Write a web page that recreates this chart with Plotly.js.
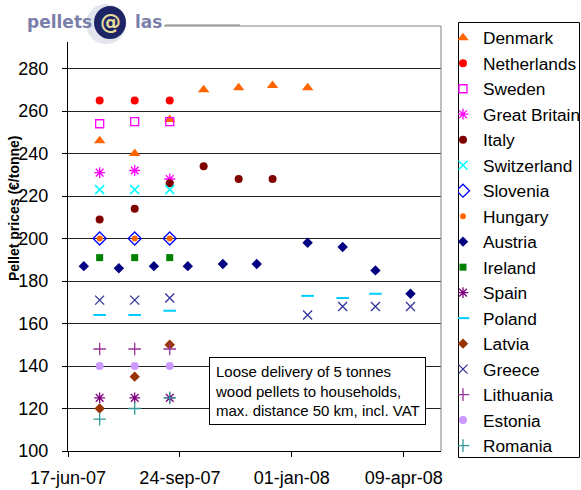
<!DOCTYPE html>
<html>
<head>
<meta charset="utf-8">
<script src="https://cdn.plot.ly/plotly-3.0.1.min.js"></script>
<style>html,body{margin:0;padding:0;background:#fff;}#chart{width:581px;height:490px;}</style>
</head>
<body>
<div id="chart"></div>
<script>
// ---- data ----
var dates2007 = ['2007-07-15', '2007-08-15', '2007-09-15'];
var denmarkDates = ['2007-07-15', '2007-08-15', '2007-09-15', '2007-10-15', '2007-11-15', '2007-12-15', '2008-01-15'];
var italyDates = ['2007-07-15', '2007-08-15', '2007-09-15', '2007-10-15', '2007-11-15', '2007-12-15'];
var austriaDates = ['2007-07-01', '2007-08-01', '2007-09-01', '2007-10-01', '2007-11-01', '2007-12-01', '2008-01-15', '2008-02-15', '2008-03-15', '2008-04-15'];
var polandDates = ['2007-07-15', '2007-08-15', '2007-09-15', '2008-01-15', '2008-02-15', '2008-03-15'];
var greeceDates = ['2007-07-15', '2007-08-15', '2007-09-15', '2008-01-15', '2008-02-15', '2008-03-15', '2008-04-15'];

var denmark = [246, 240, 256, 270, 271, 272, 271];
var netherlands = [265, 265, 265];
var sweden = [254, 255, 255];
var greatBritain = [231, 232, 228];
var italy = [209, 214, 226, 234, 228, 228];
var switzerland = [223, 223, 223];
var slovenia = [200, 200, 200];
var hungary = [200, 200, 200];
var austria = [187, 186, 187, 187, 188, 188, 198, 196, 185, 174];
var ireland = [191, 191, 191];
var spain = [125, 125, 125];
var poland = [164, 164, 166, 173, 172, 174];
var latvia = [120, 135, 150];
var greece = [171, 171, 172, 164, 168, 168, 168];
var lithuania = [148, 148, 148];
var estonia = [140, 140, 140];
var romania = [115, 120, 125];

var yTickVals = [100, 120, 140, 160, 180, 200, 220, 240, 260, 280];
var xTickVals = ['2007-06-17', '2007-09-24', '2008-01-01', '2008-04-09'];
var xTickText = ['17-jun-07', '24-sep-07', '01-jan-08', '09-apr-08'];

// ---- helpers ----
function tr(name, x, y, symbol, color, size, lw) {
  var m = {symbol: symbol, color: color, size: size};
  if (lw) m.line = {color: color, width: lw};
  else m.line = {width: 0};
  return {type: 'scatter', mode: 'markers', name: name, x: x, y: y, marker: m, cliponaxis: false};
}
var L = 68, R = 441, T = 26, B = 451;
function px(x) { return (x - L) / (R - L); }
function py(y) { return (B - y) / (B - T); }

var data = [
  tr('Denmark', denmarkDates, denmark, 'triangle-up', '#FF6600', 10),
  tr('Netherlands', dates2007, netherlands, 'circle', '#FF0000', 8),
  tr('Sweden', dates2007, sweden, 'square-open', '#FF00FF', 8, 1.3),
  tr('Great Britain', dates2007, greatBritain, 'asterisk-open', '#FF00FF', 9, 1.3),
  tr('Italy', italyDates, italy, 'circle', '#800000', 8),
  tr('Switzerland', dates2007, switzerland, 'x-thin-open', '#00FFFF', 9, 1.5),
  tr('Slovenia', dates2007, slovenia, 'diamond-open', '#0000FF', 10, 1.3),
  tr('Hungary', dates2007, hungary, 'circle', '#FF6600', 6),
  tr('Austria', austriaDates, austria, 'diamond', '#000080', 8),
  tr('Ireland', dates2007, ireland, 'square', '#008000', 7),
  tr('Spain', dates2007, spain, 'asterisk-open', '#800080', 9, 1.3),
  tr('Poland', polandDates, poland, 'line-ew-open', '#00CCFF', 9, 2),
  tr('Latvia', dates2007, latvia, 'diamond', '#993300', 8),
  tr('Greece', greeceDates, greece, 'x-thin-open', '#333399', 9, 1.3),
  tr('Lithuania', dates2007, lithuania, 'cross-thin-open', '#993399', 9, 1.3),
  tr('Estonia', dates2007, estonia, 'circle', '#CC99FF', 8),
  tr('Romania', dates2007, romania, 'cross-thin-open', '#339999', 9, 1.3)
];

var font = 'Liberation Sans, Arial, sans-serif';

var layout = {
  width: 581, height: 490,
  margin: {l: L, r: 581 - R, t: T, b: 490 - B, autoexpand: false},
  paper_bgcolor: '#fff', plot_bgcolor: '#fff',
  font: {family: font, color: '#000', size: 18},
  showlegend: true,
  legend: {
    x: px(458), y: py(20), xanchor: 'left', yanchor: 'top',
    borderwidth: 0, bgcolor: 'rgba(0,0,0,0)',
    font: {family: font, size: 17.3, color: '#000'},
    tracegroupgap: 0, indentation: -15, maxheight: 480
  },
  xaxis: {
    type: 'date', range: ['2007-06-17', '2008-05-12'],
    tickmode: 'array', tickvals: xTickVals, ticktext: xTickText,
    showgrid: false, zeroline: false,
    showline: true, linecolor: '#000', linewidth: 1,
    ticks: 'outside', ticklen: 5, tickcolor: '#000',
    tickfont: {family: font, size: 18, color: '#000'},
    ticklabelstandoff: 5
  },
  yaxis: {
    range: [100, 300],
    tickmode: 'array', tickvals: yTickVals,
    showgrid: true, gridcolor: '#222', gridwidth: 1,
    zeroline: false,
    showline: true, linecolor: '#000', linewidth: 1,
    ticks: 'outside', ticklen: 5, tickcolor: '#000',
    tickfont: {family: font, size: 18, color: '#000'},
    ticklabelstandoff: 10
  },
  shapes: [
    {type: 'line', xref: 'paper', yref: 'paper', x0: 0, x1: 1, y0: 1, y1: 1, line: {color: '#808080', width: 1}},
    {type: 'line', xref: 'paper', yref: 'paper', x0: 1, x1: 1, y0: 0, y1: 1, line: {color: '#808080', width: 1}},
    // legend frame
    {type: 'rect', xref: 'paper', yref: 'paper', x0: px(458.5), x1: px(579.5), y0: py(457.5), y1: py(22.5), line: {color: '#000', width: 1}, fillcolor: 'rgba(0,0,0,0)'},
    // logo backdrop
    {type: 'rect', xref: 'paper', yref: 'paper', layer: 'above', x0: px(18), x1: px(164), y0: py(42), y1: py(0), fillcolor: '#fff', line: {width: 0}},
    {type: 'line', xref: 'paper', yref: 'paper', layer: 'above', x0: px(165), x1: px(240), y0: py(25), y1: py(25), line: {color: '#808080', width: 1}},
    {type: 'circle', xref: 'paper', yref: 'paper', layer: 'above', x0: px(86), x1: px(126), y0: py(44), y1: py(4), fillcolor: '#e4e6ee', line: {width: 0}},
    {type: 'circle', xref: 'paper', yref: 'paper', layer: 'above', x0: px(94), x1: px(126), y0: py(39), y1: py(6), fillcolor: '#1e2566', line: {width: 0}}
  ],
  annotations: [
    {xref: 'paper', yref: 'paper', x: px(317), y: py(390.5), xanchor: 'center', yanchor: 'middle',
     text: 'Loose delivery of 5 tonnes<br>wood pellets to households,<br>max. distance 50 km, incl. VAT',
     align: 'left', showarrow: false, bgcolor: '#fff', bordercolor: '#000', borderwidth: 1, borderpad: 5,
     font: {family: font, size: 15, color: '#000'}},
    {xref: 'paper', yref: 'paper', x: px(14), y: py(208), xanchor: 'center', yanchor: 'middle',
     text: '<b>Pellet prices (€/tonne)</b>', textangle: -90, showarrow: false,
     font: {family: font, size: 14, color: '#000'}},
    {xref: 'paper', yref: 'paper', x: px(25), y: py(22), xanchor: 'left', yanchor: 'middle',
     text: '<b>pellets</b>', showarrow: false, font: {family: 'DejaVu Sans', size: 17, color: '#7a80aa'}},
    {xref: 'paper', yref: 'paper', x: px(110), y: py(22), xanchor: 'center', yanchor: 'middle',
     text: '<b>@</b>', showarrow: false, font: {family: 'DejaVu Sans', size: 21, color: '#e6dc9a'}},
    {xref: 'paper', yref: 'paper', x: px(133), y: py(22), xanchor: 'left', yanchor: 'middle',
     text: '<b>las</b>', showarrow: false, font: {family: 'DejaVu Sans', size: 17, color: '#7a80aa'}}
  ]
};

Plotly.newPlot('chart', data, layout, {staticPlot: true, displayModeBar: false});
</script>
</body>
</html>
